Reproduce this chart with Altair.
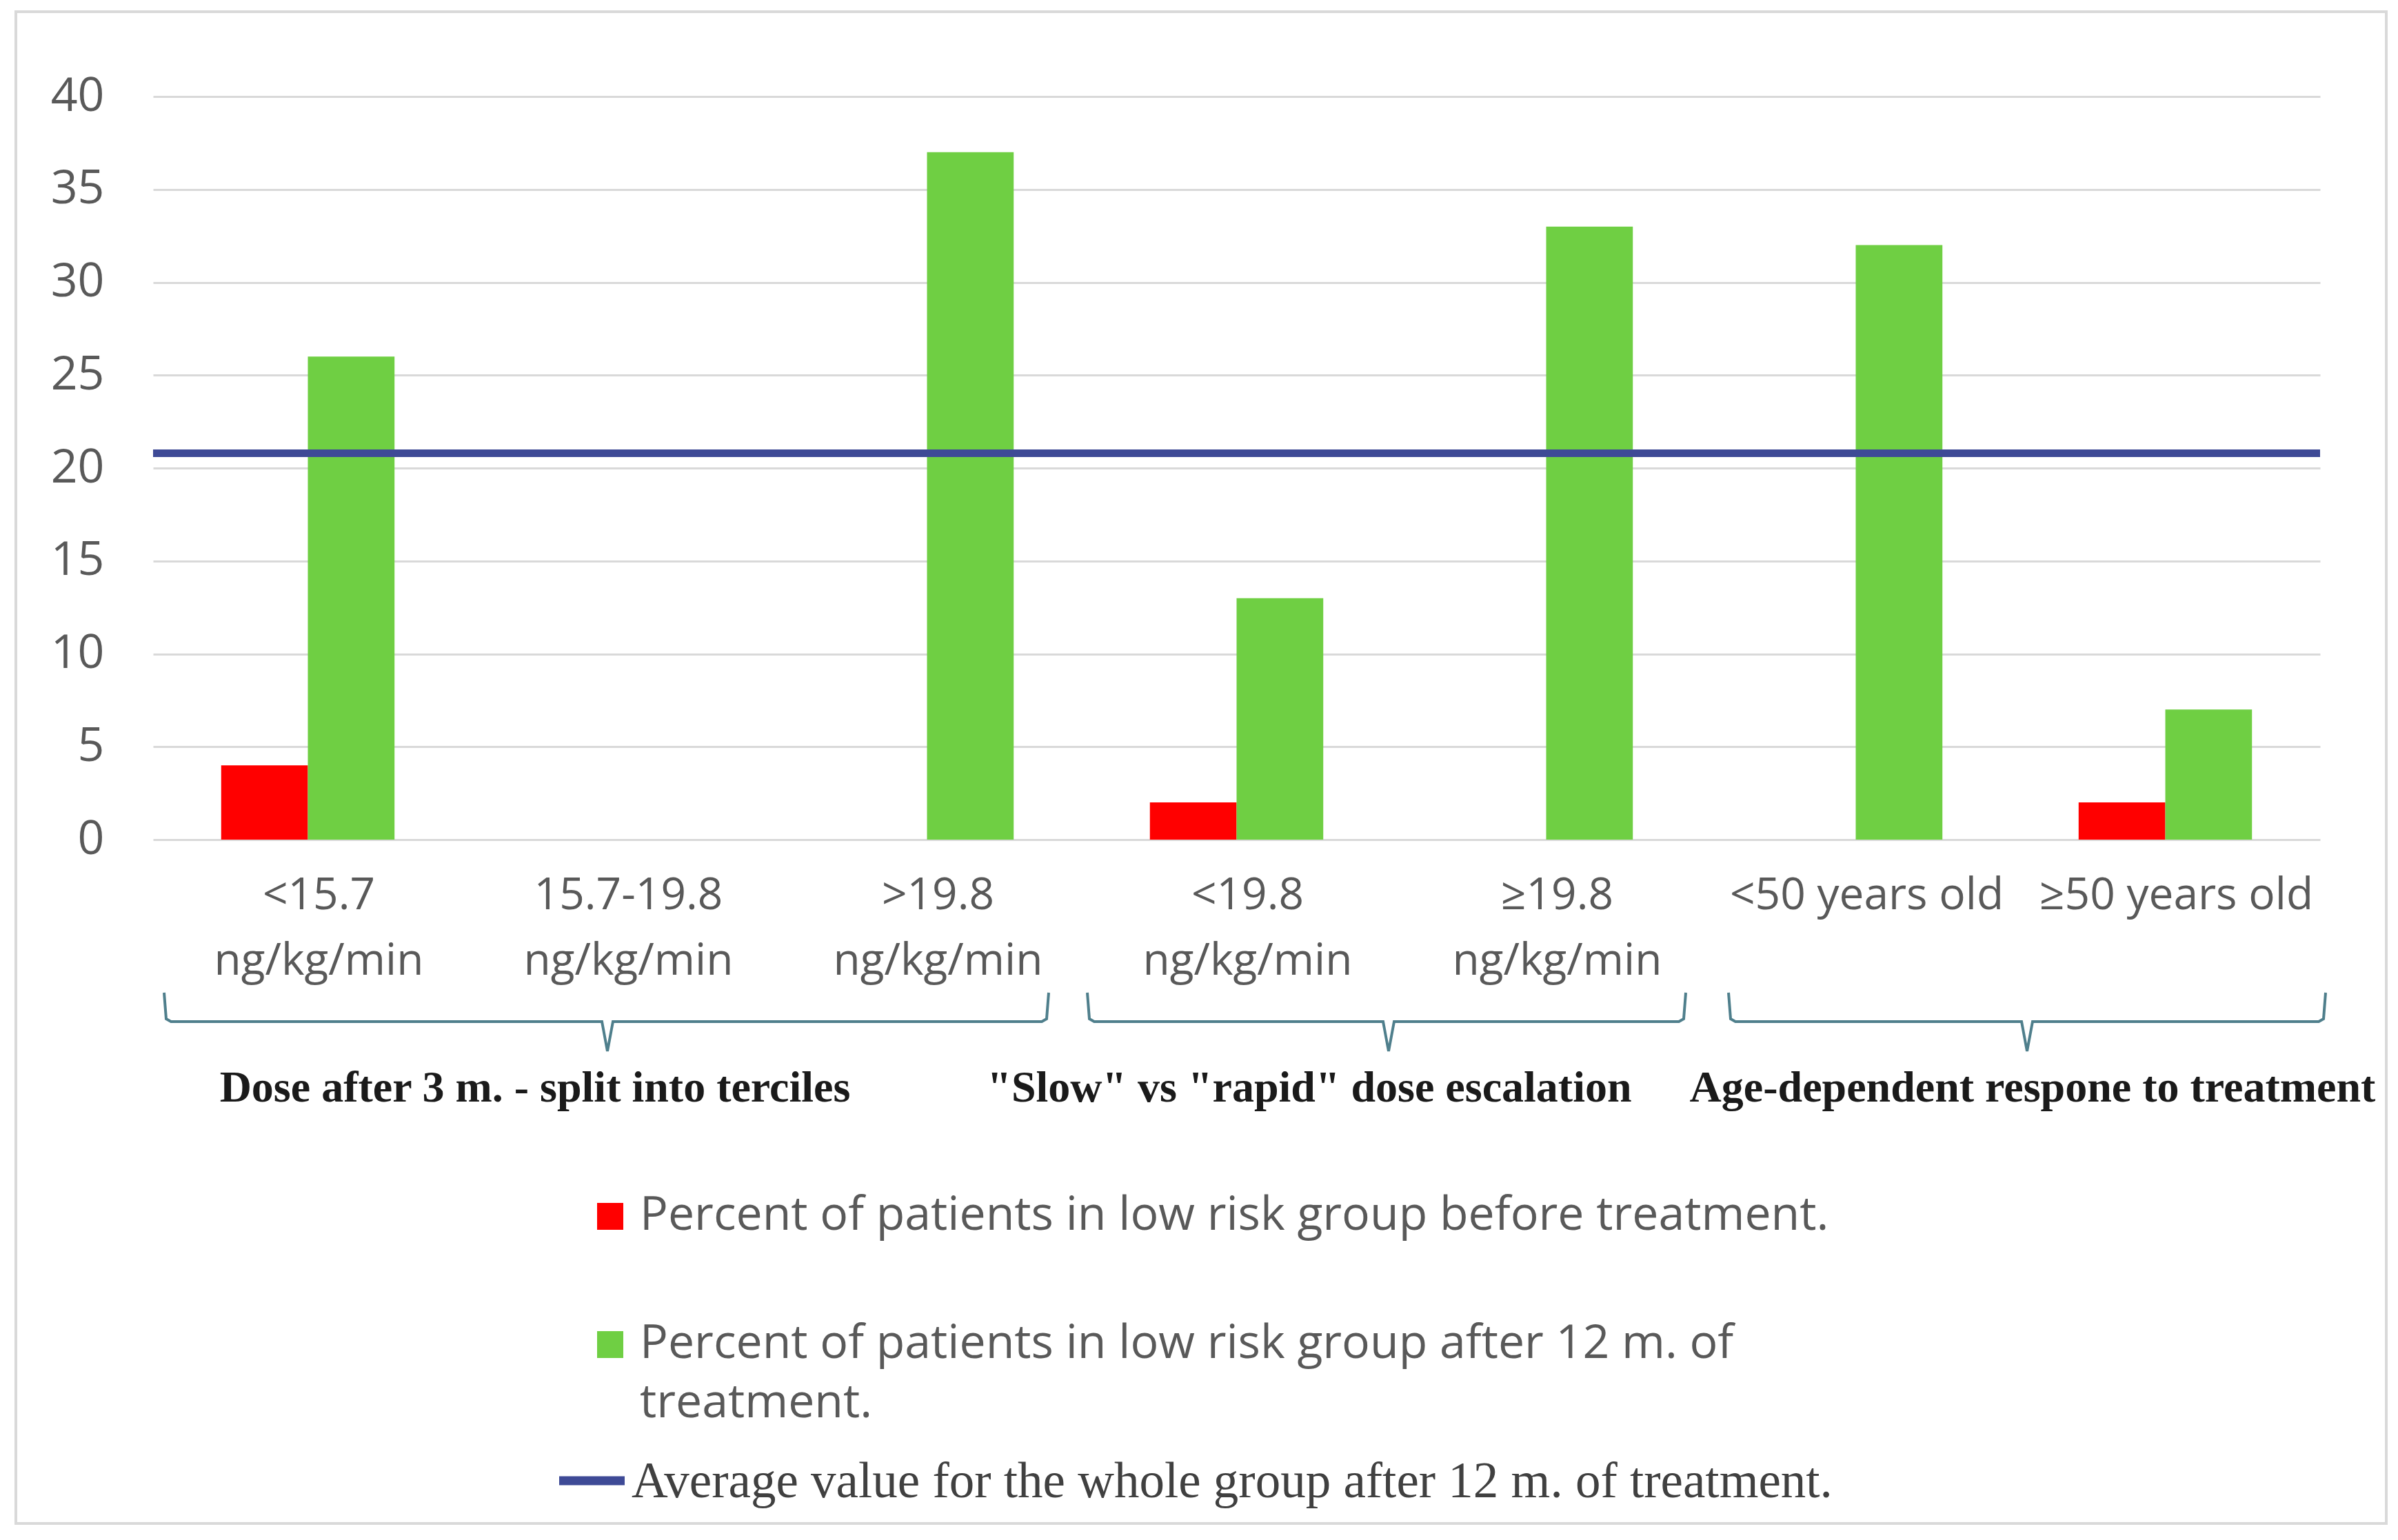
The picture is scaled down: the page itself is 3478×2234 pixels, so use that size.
import altair as alt
import pandas as pd

# ---------------- data ----------------
categories = ["<15.7|ng/kg/min", "15.7-19.8|ng/kg/min", ">19.8|ng/kg/min",
              "<19.8|ng/kg/min", "≥19.8|ng/kg/min", "<50 years old", "≥50 years old"]
series_keys = ["before", "after"]
series_labels = ["Percent of patients in low risk group before treatment.",
                 "Percent of patients in low risk group after 12 m. of|treatment."]
before_values = [4, 0, 0, 2, 0, 0, 2]
after_values = [26, 0, 37, 13, 33, 32, 7]
average_value = 20.8
average_label = "Average value for the whole group after 12 m. of treatment."
y_ticks = [0, 5, 10, 15, 20, 25, 30, 35, 40]
group_labels = ["Dose after 3 m. - split into terciles",
                "\"Slow\" vs \"rapid\" dose escalation",
                "Age-dependent respone to treatment"]

# ---------------- styling / layout ----------------
series_colors = ["#FF0000", "#6FCF43"]
avg_color = "#3E4A96"
grid_color = "#D9D9D9"
text_gray = "#595959"
bracket_color = "#4F7F8C"
SANS = "Open Sans"
SERIF = "Liberation Serif"

W, H = 3143, 1078

rows = []
for i, c in enumerate(categories):
    rows.append({"cat": c, "ser": "before", "value": before_values[i]})
    rows.append({"cat": c, "ser": "after", "value": after_values[i]})
df = pd.DataFrame(rows)

bars = alt.Chart(df).mark_bar().encode(
    x=alt.X("cat:N", sort=categories,
            scale=alt.Scale(paddingInner=0.44, paddingOuter=0.22),
            axis=alt.Axis(title=None, labelExpr="split(datum.label, '|')",
                          labelAngle=0, labelFont=SANS, labelFontSize=64,
                          labelLineHeight=95, labelPadding=49, labelColor=text_gray,
                          labelOffset=16,
                          domain=False, ticks=False, labelLimit=0, labelOverlap=False,
                          grid=False)),
    xOffset=alt.XOffset("ser:N", sort=series_keys,
                        scale=alt.Scale(paddingInner=0, paddingOuter=0)),
    y=alt.Y("value:Q", scale=alt.Scale(domain=[0, 40], nice=False),
            axis=alt.Axis(title=None, values=y_ticks, labelFont=SANS, labelFontSize=68,
                          labelColor=text_gray, labelPadding=71, domain=False,
                          ticks=False, grid=True, gridColor=grid_color, gridWidth=3)),
    color=alt.Color("ser:N", scale=alt.Scale(domain=series_keys, range=series_colors),
                    legend=None),
)

avg = alt.Chart(pd.DataFrame({"avg": [average_value]})).mark_rule(
    color=avg_color, strokeWidth=11).encode(y="avg:Q")

# brackets (pixel space, relative to plot origin)
br_left = [16, 1355, 2285]
br_tip = [659, 1792, 2718]
br_right = [1299, 2223, 3151]
br_top, br_mid, br_bottom = 1300, 1342, 1385
brows = []
for b in range(3):
    L, C, R = br_left[b], br_tip[b], br_right[b]
    pts = [(L, br_top), (L + 3, br_mid - 4), (L + 10, br_mid), (C - 8, br_mid),
           (C, br_bottom), (C + 8, br_mid), (R - 10, br_mid), (R - 3, br_mid - 4), (R, br_top)]
    for k, (px, py) in enumerate(pts):
        brows.append({"b": b, "k": k, "px": px, "py": py})
brackets = alt.Chart(pd.DataFrame(brows)).mark_line(
    color=bracket_color, strokeWidth=4).encode(
    x=alt.X("px:Q", scale=None, axis=None),
    y=alt.Y("py:Q", scale=None, axis=None),
    detail="b:N", order="k:Q")

group_x = [554, 1677, 2726]
group_layers = []
for g, gx in zip(group_labels, group_x):
    group_layers.append(
        alt.Chart(pd.DataFrame({"t": [g]})).mark_text(
            align="center", baseline="alphabetic", font=SERIF, fontWeight="bold",
            fontSize=64, color="#1A1A1A").encode(
            x=alt.value(gx), y=alt.value(1458), text="t:N"))

# legend
leg_y = [(1605, 1644), (1791, 1830)]
legend_layers = []
for i in range(2):
    legend_layers.append(
        alt.Chart(pd.DataFrame({"c": [series_keys[i]]})).mark_rect(
            color=series_colors[i]).encode(
            x=alt.value(644), x2=alt.value(682),
            y=alt.value(leg_y[i][0]), y2=alt.value(leg_y[i][1])))
    legend_layers.append(
        alt.Chart(pd.DataFrame({"t": [series_labels[i]]})).mark_text(
            align="left", baseline="alphabetic", font=SANS, fontSize=68,
            color=text_gray, lineBreak="|", lineHeight=86).encode(
            x=alt.value(706), y=alt.value(leg_y[i][1]), text="t:N"))
legend_layers.append(
    alt.Chart(pd.DataFrame({"c": ["avg"]})).mark_rule(
        color=avg_color, strokeWidth=13).encode(
        x=alt.value(589), x2=alt.value(684), y=alt.value(2008)))
legend_layers.append(
    alt.Chart(pd.DataFrame({"t": [average_label]})).mark_text(
        align="left", baseline="alphabetic", font=SERIF, fontSize=73,
        color="#404040").encode(
        x=alt.value(694), y=alt.value(2032), text="t:N"))

border = alt.Chart(pd.DataFrame({"c": [1]})).mark_rect(
    fill="transparent", stroke=grid_color, strokeWidth=4).encode(
    x=alt.value(-199), x2=alt.value(3239), y=alt.value(-123), y2=alt.value(2070))

chart = alt.layer(border, bars, avg, brackets, *group_layers, *legend_layers).properties(
    width=W, height=H,
    autosize=alt.AutoSizeParams(type="none"),
    padding={"left": 214, "top": 132, "right": 105, "bottom": 1008},
    background="white",
).configure_view(stroke=None)

chart.save("out.html", embed_options={"renderer": "svg", "actions": False})
